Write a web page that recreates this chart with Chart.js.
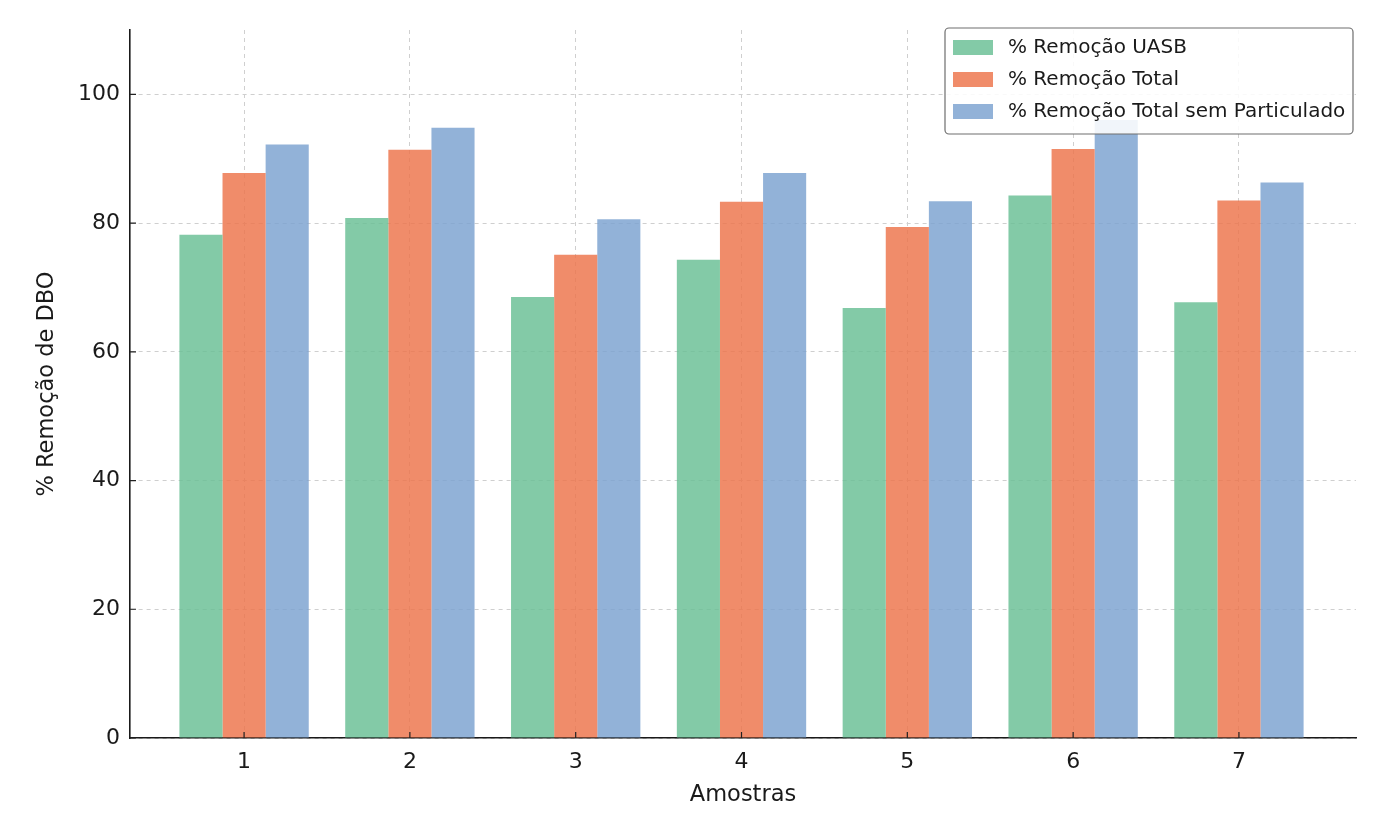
<!DOCTYPE html>
<html>
<head>
<meta charset="utf-8">
<script src="https://cdn.jsdelivr.net/npm/chart.js@4"></script>
<style>
  html, body { margin: 0; padding: 0; background: #fff; }
  #wrap { width: 1391px; height: 838px; }
</style>
</head>
<body>
<div id="wrap"><canvas id="dboChart"></canvas></div>
<script>
// amostras e % de remoção
var amostras = ['1', '2', '3', '4', '5', '6', '7'];
var remocaoUASB = [78.2, 80.8, 68.5, 74.3, 66.8, 84.3, 67.7];
var remocaoTotal = [87.8, 91.4, 75.1, 83.3, 79.4, 91.5, 83.5];
var remocaoSemPart = [92.2, 94.8, 80.6, 87.8, 83.4, 96.0, 86.3];
var yTicks = [0, 20, 40, 60, 80, 100];

var fonte = 'DejaVu Sans, sans-serif';

function pontos(valores) {
    return valores.map(function(v, i) { return { x: i + 1, y: v }; });
}

// pequenos traços das marcas, virados para dentro como no matplotlib
var marcasInternas = {
    id: 'marcasInternas',
    afterDatasetsDraw: function(chart) {
        var c = chart.ctx, a = chart.chartArea;
        c.save();
        c.strokeStyle = '#222';
        c.lineWidth = 1.2;
        c.beginPath();
        chart.scales.x.ticks.forEach(function(t) {
            var px = chart.scales.x.getPixelForValue(t.value);
            c.moveTo(px, a.bottom);
            c.lineTo(px, a.bottom - 6);
        });
        chart.scales.y.ticks.forEach(function(t) {
            var py = chart.scales.y.getPixelForValue(t.value);
            c.moveTo(a.left, py);
            c.lineTo(a.left + 6, py);
        });
        c.stroke();
        c.restore();
    }
};

// legenda desenhada dentro da área do gráfico, por cima das barras
var legendaInterna = {
    id: 'legendaInterna',
    afterDraw: function(chart) {
        var c = chart.ctx;
        var x0 = 945, y0 = 28, w = 408, h = 106;
        c.save();
        c.beginPath();
        c.roundRect(x0, y0, w, h, 4);
        c.fillStyle = 'rgba(255,255,255,0.88)';
        c.fill();
        c.strokeStyle = '#6e6e6e';
        c.lineWidth = 1.2;
        c.stroke();
        c.font = '20px ' + fonte;
        c.textBaseline = 'middle';
        chart.data.datasets.forEach(function(ds, i) {
            var cy = 47 + i * 32;
            c.fillStyle = ds.backgroundColor;
            c.fillRect(953, cy - 7, 40, 15);
            c.fillStyle = '#1a1a1a';
            c.fillText(ds.label, 1008, cy + 1);
        });
        c.restore();
    }
};

var ctx = document.getElementById('dboChart').getContext('2d');
var grafico = new Chart(ctx, {
    type: 'bar',
    data: {
        datasets: [{
            label: '% Remoção UASB',
            data: pontos(remocaoUASB),
            backgroundColor: 'rgba(104,190,148,0.82)',
            borderWidth: 0
        }, {
            label: '% Remoção Total',
            data: pontos(remocaoTotal),
            backgroundColor: 'rgba(237,115,73,0.82)',
            borderWidth: 0
        }, {
            label: '% Remoção Total sem Particulado',
            data: pontos(remocaoSemPart),
            backgroundColor: 'rgba(122,161,207,0.82)',
            borderWidth: 0
        }]
    },
    options: {
        responsive: true,
        maintainAspectRatio: false,
        animation: false,
        categoryPercentage: 0.78,
        barPercentage: 1.0,
        layout: { padding: { top: 30, right: 35, left: 0, bottom: 0 } },
        plugins: {
            legend: { display: false },
            tooltip: { enabled: false }
        },
        scales: {
            x: {
                type: 'linear',
                min: 0.312,
                max: 7.706,
                offset: false,
                afterFit: function(scale) { scale.height = 100; },
                grid: { offset: false, color: '#cfcfcf', drawTicks: false },
                border: { color: '#1a1a1a', width: 1.6, dash: [4, 4] },
                ticks: {
                    stepSize: 1,
                    includeBounds: false,
                    padding: 11,
                    color: '#1a1a1a',
                    font: { family: fonte, size: 22 },
                    callback: function(v) { return amostras[v - 1]; }
                },
                title: {
                    display: true,
                    text: 'Amostras',
                    color: '#1a1a1a',
                    font: { family: fonte, size: 22.5 },
                    padding: { top: 4, bottom: 29 }
                }
            },
            y: {
                min: 0,
                max: 110,
                afterFit: function(scale) { scale.width = 130; },
                afterBuildTicks: function(scale) {
                    scale.ticks = yTicks.map(function(v) { return { value: v }; });
                },
                grid: { color: '#cfcfcf', drawTicks: false },
                border: { color: '#1a1a1a', width: 1.6, dash: [4, 4] },
                ticks: {
                    padding: 10,
                    color: '#1a1a1a',
                    font: { family: fonte, size: 22 }
                },
                title: {
                    display: true,
                    text: '% Remoção de DBO',
                    color: '#1a1a1a',
                    font: { family: fonte, size: 22.5 },
                    padding: { top: 34, bottom: 0 }
                }
            }
        }
    },
    plugins: [marcasInternas, legendaInterna]
});
</script>
</body>
</html>
